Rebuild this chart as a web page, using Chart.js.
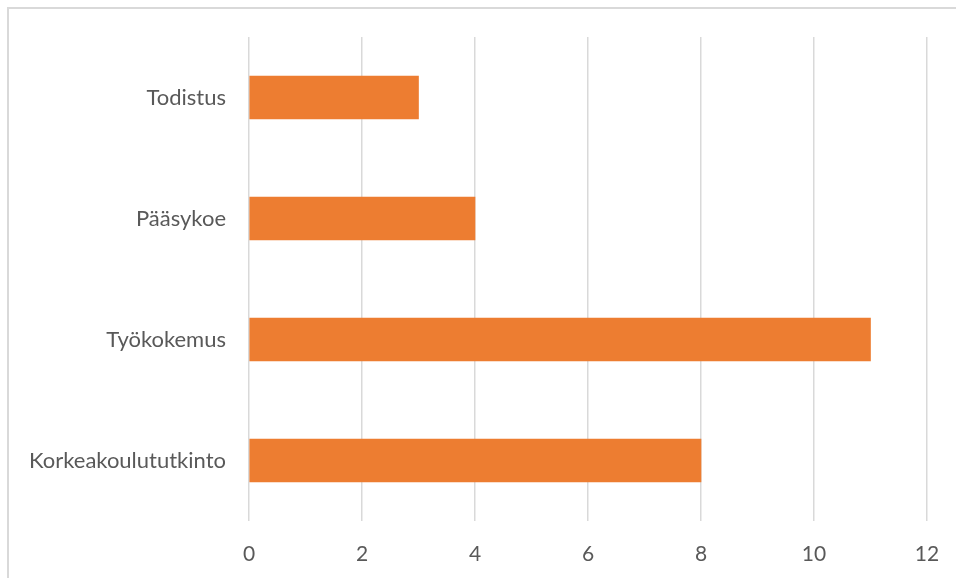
<!DOCTYPE html>
<html>
<head>
<meta charset="utf-8">
<script src="https://cdn.jsdelivr.net/npm/chart.js@4/dist/chart.umd.min.js"></script>
<style>
  html, body { margin: 0; padding: 0; background: #fff; overflow: hidden; }
  .frame {
    position: absolute; left: 7px; top: 7px; width: 970px; height: 600px;
    border: 2px solid #d9d9d9; box-sizing: border-box;
  }
  .wrap { position: absolute; left: 0; top: 0; width: 956px; height: 578px; }
</style>
</head>
<body>
<div class="frame"></div>
<div class="wrap"><canvas id="bar-chart"></canvas></div>
<script>
// Horizontal bars, top to bottom
const categories = ["Todistus", "Pääsykoe", "Työkokemus", "Korkeakoulututkinto"];
const counts = [3, 4, 11, 8];
const xTicks = [0, 2, 4, 6, 8, 10, 12];

const textColor = "#595959";
const gridColor = "#d9d9d9";

const barChart = new Chart("bar-chart", {
  type: "bar",
  data: {
    labels: categories,
    datasets: [
      {
        data: counts,
        backgroundColor: "#ED7D31",
        borderWidth: 0,
        barThickness: 43
      }
    ]
  },
  options: {
    indexAxis: "y",
    responsive: true,
    maintainAspectRatio: false,
    animation: false,
    layout: {
      padding: { left: 0, top: 37, right: 29, bottom: 0 }
    },
    scales: {
      x: {
        min: 0,
        max: 12,
        afterBuildTicks: (scale) => {
          scale.ticks = xTicks.map(v => ({ value: v }));
        },
        afterFit: (scale) => {
          scale.height = 57;
          // don't let the last tick label push the plot area in
          scale.paddingLeft = 0;
          scale.paddingRight = 0;
        },
        grid: {
          color: gridColor,
          lineWidth: 1.5,
          drawTicks: false
        },
        border: { display: false },
        ticks: {
          color: textColor,
          padding: 21,
          font: { family: "Lato", size: 21 }
        }
      },
      y: {
        afterFit: (scale) => { scale.width = 249; },
        grid: { display: false, drawTicks: false },
        border: { display: false },
        ticks: {
          color: textColor,
          padding: 23,
          font: { family: "Lato", size: 22 }
        }
      }
    },
    plugins: {
      legend: { display: false },
      tooltip: { enabled: false }
    }
  }
});
</script>
</body>
</html>
